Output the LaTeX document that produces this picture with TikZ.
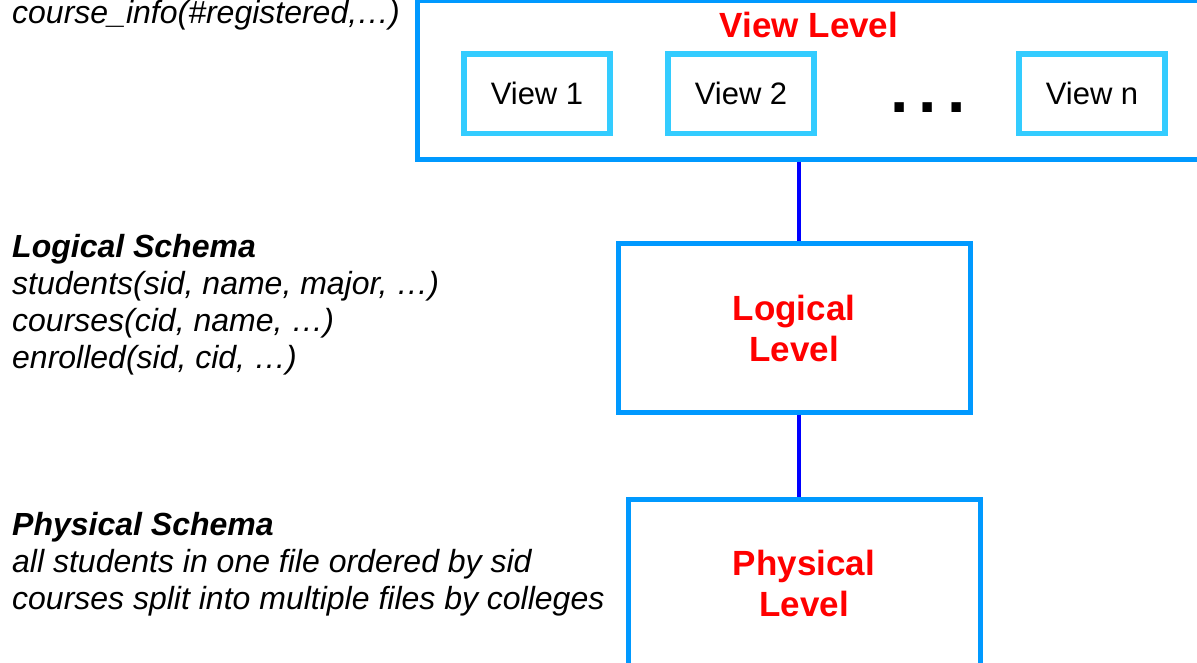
\documentclass[tikz,border=0pt]{standalone}
\usepackage{fontspec}
\setmainfont{Liberation Sans}
\definecolor{levelblue}{HTML}{0099FF}
\definecolor{viewcyan}{HTML}{33CCFF}
\definecolor{linkblue}{HTML}{0000FF}
\definecolor{levelred}{HTML}{FF0000}
\tikzset{
  levelbox/.style={draw=levelblue, line width=5pt, fill=white, inner sep=0pt},
  viewbox/.style={draw=viewcyan, line width=5.5pt, fill=white, inner sep=0pt,
    minimum width=146pt, minimum height=79.5pt},
  viewtext/.style={font=\fontsize{31}{36}\selectfont, anchor=base, inner sep=0pt},
  leveltext/.style={text=levelred, font=\fontsize{35}{41}\selectfont\bfseries,
    align=center, inner sep=0pt},
  schemabox/.style={font=\fontsize{32}{37}\selectfont\itshape, align=left,
    anchor=north west, inner sep=0pt},
  link/.style={draw=linkblue, line width=4pt}
}
\begin{document}
\begin{tikzpicture}[x=1pt, y=-1pt]
\useasboundingbox (0,0) rectangle (1197,663);
\clip (0,0) rectangle (1197,663);

% view level frame with its views
\node[levelbox, anchor=north west, minimum width=830pt, minimum height=158.5pt]
  (view) at (415,-1.5) {};
\node[leveltext, anchor=base] (viewlabel) at (809,38) {View Level};
\node[viewbox] (v1) at (537,94) {};
\node[viewbox] (v2) at (741,94) {};
\node[viewbox] (vn) at (1092,94) {};
\node[viewtext] (v1t) at (v1.center |- 0,105) {View 1};
\node[viewtext] (v2t) at (v2.center |- 0,105) {View 2};
\node[viewtext] (vnt) at (vn.center |- 0,105) {View n};
\node[anchor=base, inner sep=0pt, font=\fontsize{66}{66}\selectfont\bfseries]
  (dots) at (928,113) {.\hspace{10.5pt}.\hspace{10.5pt}.};

% logical and physical levels
\node[levelbox, leveltext, minimum width=352pt, minimum height=168pt]
  (logical) at (794,328) {Logical\\Level};
\node[levelbox, leveltext, minimum width=352pt, minimum height=169pt]
  (physical) at (804,583.5) {Physical\\Level};

% links between the levels
\coordinate (axis) at (799,0);
\draw[link] (view.south -| axis) -- (logical.north -| axis);
\draw[link] (logical.south -| axis) -- (physical.north -| axis);

% schema descriptions
\node[font=\fontsize{32}{37}\selectfont\itshape, anchor=base west, inner sep=0pt]
  (views) at (12,24) {course\_info(\#registered,…)};
\node[schemabox] (logschema) at (12,233.7)
  {\textbf{Logical Schema}\\students(sid, name, major, …)\\courses(cid, name, …)\\enrolled(sid, cid, …)};
\node[schemabox] (physschema) at (12,511.7)
  {\textbf{Physical Schema}\\all students in one file ordered by sid\\courses split into multiple files by colleges};
\end{tikzpicture}
\end{document}
